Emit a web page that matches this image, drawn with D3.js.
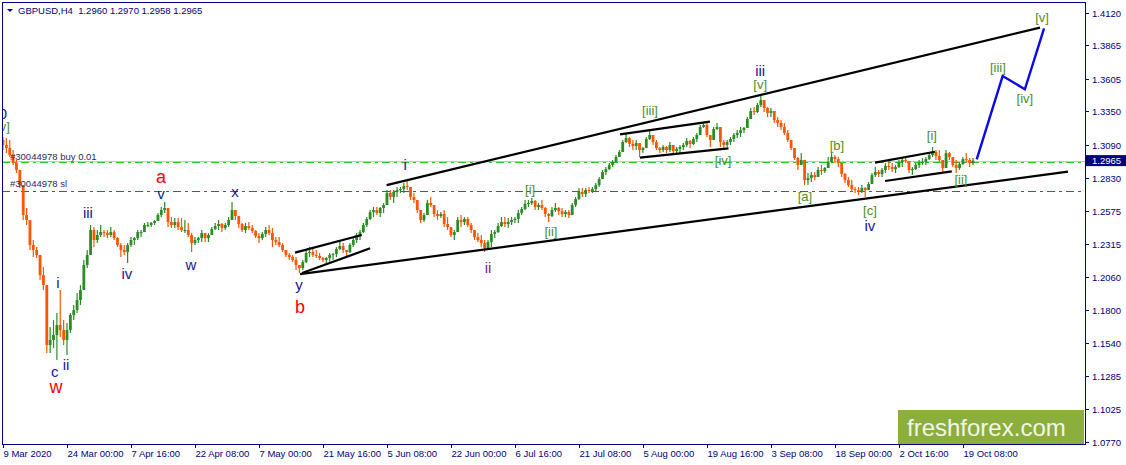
<!DOCTYPE html>
<html><head><meta charset="utf-8">
<script src="https://cdn.jsdelivr.net/npm/d3@7"></script>
<style>html,body{margin:0;padding:0;background:#fff;overflow:hidden}</style>
</head><body><svg id="c" width="1126" height="465"></svg>
<script>
// ---------------- data ----------------
const symbolTitle = "GBPUSD,H4";
const lastOHLC = [1.2960, 1.2970, 1.2958, 1.2965];
const firstOpen = 1.3126;
const high = [
1.3149,1.3141,1.3126,1.3048,1.2970,1.2876,1.2735,1.2595,1.2462,1.2345,
1.2290,1.2204,1.2134,1.1876,1.1665,1.1720,1.1775,1.1954,1.1720,1.1697,
1.1775,1.1837,1.1931,1.1993,1.2189,1.2267,1.2462,1.2446,1.2423,1.2462,
1.2423,1.2423,1.2446,1.2423,1.2368,1.2321,1.2306,1.2321,1.2368,1.2368,
1.2423,1.2423,1.2478,1.2485,1.2485,1.2501,1.2556,1.2603,1.2642,1.2579,
1.2524,1.2517,1.2517,1.2517,1.2501,1.2478,1.2399,1.2368,1.2368,1.2423,
1.2399,1.2399,1.2446,1.2478,1.2501,1.2478,1.2478,1.2524,1.2642,1.2579,
1.2524,1.2478,1.2478,1.2485,1.2462,1.2423,1.2399,1.2407,1.2446,1.2462,
1.2439,1.2368,1.2368,1.2321,1.2267,1.2243,1.2228,1.2212,1.2150,1.2189,
1.2267,1.2290,1.2282,1.2267,1.2243,1.2212,1.2212,1.2243,1.2243,1.2290,
1.2345,1.2321,1.2267,1.2321,1.2368,1.2399,1.2423,1.2478,1.2524,1.2579,
1.2603,1.2603,1.2603,1.2634,1.2735,1.2735,1.2735,1.2759,1.2759,1.2790,
1.2806,1.2759,1.2712,1.2657,1.2579,1.2556,1.2657,1.2681,1.2603,1.2579,
1.2563,1.2579,1.2524,1.2446,1.2423,1.2524,1.2540,1.2524,1.2524,1.2478,
1.2423,1.2399,1.2384,1.2345,1.2345,1.2423,1.2423,1.2478,1.2524,1.2524,
1.2517,1.2524,1.2524,1.2579,1.2603,1.2657,1.2657,1.2673,1.2657,1.2634,
1.2657,1.2603,1.2556,1.2603,1.2634,1.2603,1.2595,1.2579,1.2579,1.2634,
1.2681,1.2751,1.2751,1.2751,1.2759,1.2759,1.2790,1.2837,1.2892,1.2915,
1.2946,1.2970,1.3009,1.3048,1.3126,1.3181,1.3149,1.3126,1.3126,1.3102,
1.3071,1.3149,1.3204,1.3165,1.3126,1.3071,1.3087,1.3079,1.3110,1.3087,
1.3071,1.3087,1.3102,1.3141,1.3126,1.3149,1.3181,1.3243,1.3266,1.3259,
1.3165,1.3227,1.3259,1.3227,1.3126,1.3126,1.3149,1.3181,1.3204,1.3227,
1.3227,1.3305,1.3376,1.3384,1.3415,1.3477,1.3438,1.3384,1.3376,1.3352,
1.3305,1.3282,1.3259,1.3204,1.3126,1.3063,1.2993,1.3024,1.2970,1.2868,
1.2876,1.2876,1.2915,1.2931,1.2915,1.2993,1.3024,1.3009,1.2993,1.2946,
1.2868,1.2837,1.2813,1.2759,1.2759,1.2774,1.2759,1.2798,1.2868,1.2915,
1.2892,1.2907,1.2946,1.2970,1.2946,1.2931,1.2970,1.2985,1.2993,1.2962,
1.2915,1.2946,1.2970,1.2985,1.2993,1.3024,1.3071,1.3048,1.3048,1.2970,
1.3048,1.3032,1.2993,1.2970,1.2954,1.2993,1.3024,1.2985,1.2985];
const low = [
1.3048,1.3024,1.2993,1.2931,1.2868,1.2751,1.2501,1.2462,1.2267,1.2212,
1.2204,1.2032,1.1954,1.1462,1.1462,1.1501,1.1408,1.1587,1.1525,1.1447,
1.1618,1.1720,1.1775,1.1837,1.1993,1.2126,1.2306,1.2290,1.2321,1.2368,
1.2368,1.2360,1.2368,1.2345,1.2290,1.2212,1.2228,1.2165,1.2290,1.2306,
1.2345,1.2368,1.2423,1.2446,1.2446,1.2462,1.2501,1.2524,1.2556,1.2446,
1.2439,1.2439,1.2423,1.2407,1.2399,1.2368,1.2251,1.2306,1.2321,1.2329,
1.2329,1.2329,1.2399,1.2423,1.2423,1.2407,1.2423,1.2446,1.2501,1.2501,
1.2439,1.2407,1.2399,1.2423,1.2399,1.2360,1.2321,1.2345,1.2368,1.2384,
1.2290,1.2306,1.2290,1.2251,1.2212,1.2189,1.2173,1.2111,1.2087,1.2111,
1.2165,1.2212,1.2212,1.2204,1.2189,1.2173,1.2165,1.2173,1.2189,1.2212,
1.2267,1.2243,1.2212,1.2243,1.2290,1.2321,1.2345,1.2399,1.2446,1.2501,
1.2524,1.2540,1.2524,1.2556,1.2634,1.2657,1.2634,1.2681,1.2712,1.2712,
1.2735,1.2657,1.2634,1.2556,1.2478,1.2485,1.2556,1.2603,1.2524,1.2501,
1.2517,1.2446,1.2423,1.2368,1.2345,1.2423,1.2446,1.2462,1.2446,1.2399,
1.2345,1.2329,1.2290,1.2251,1.2267,1.2290,1.2360,1.2399,1.2446,1.2446,
1.2439,1.2462,1.2478,1.2478,1.2540,1.2579,1.2603,1.2618,1.2579,1.2579,
1.2579,1.2524,1.2485,1.2524,1.2563,1.2540,1.2524,1.2524,1.2517,1.2556,
1.2603,1.2657,1.2681,1.2681,1.2712,1.2712,1.2720,1.2759,1.2829,1.2852,
1.2892,1.2915,1.2954,1.2993,1.3048,1.3102,1.3071,1.3048,1.3048,1.2993,
1.3024,1.3071,1.3126,1.3087,1.3048,1.3024,1.3032,1.3024,1.3032,1.3009,
1.3009,1.3024,1.3048,1.3071,1.3063,1.3087,1.3110,1.3165,1.3220,1.3149,
1.3071,1.3126,1.3204,1.3071,1.3063,1.3071,1.3087,1.3110,1.3141,1.3149,
1.3181,1.3220,1.3290,1.3321,1.3337,1.3384,1.3345,1.3305,1.3305,1.3259,
1.3227,1.3204,1.3165,1.3110,1.3048,1.2970,1.2892,1.2931,1.2774,1.2774,
1.2798,1.2813,1.2837,1.2852,1.2868,1.2915,1.2946,1.2946,1.2915,1.2837,
1.2790,1.2759,1.2720,1.2712,1.2696,1.2712,1.2681,1.2735,1.2798,1.2837,
1.2837,1.2837,1.2868,1.2892,1.2876,1.2868,1.2907,1.2915,1.2946,1.2868,
1.2852,1.2892,1.2907,1.2931,1.2931,1.2970,1.2993,1.2970,1.2954,1.2876,
1.2907,1.2970,1.2915,1.2868,1.2892,1.2931,1.2946,1.2915,1.2931];
const close = [
1.3087,1.3063,1.3009,1.2946,1.2892,1.2774,1.2540,1.2501,1.2306,1.2267,
1.2228,1.2071,1.1993,1.1525,1.1564,1.1603,1.1681,1.1642,1.1564,1.1642,
1.1759,1.1798,1.1876,1.1954,1.2150,1.2228,1.2423,1.2345,1.2384,1.2407,
1.2399,1.2384,1.2407,1.2360,1.2306,1.2267,1.2251,1.2306,1.2345,1.2360,
1.2407,1.2407,1.2462,1.2462,1.2478,1.2493,1.2540,1.2579,1.2595,1.2485,
1.2462,1.2485,1.2446,1.2423,1.2423,1.2384,1.2321,1.2345,1.2360,1.2399,
1.2360,1.2384,1.2431,1.2454,1.2470,1.2439,1.2462,1.2501,1.2579,1.2532,
1.2470,1.2423,1.2454,1.2439,1.2415,1.2376,1.2360,1.2392,1.2423,1.2399,
1.2345,1.2329,1.2306,1.2267,1.2228,1.2212,1.2189,1.2150,1.2126,1.2173,
1.2243,1.2251,1.2228,1.2220,1.2204,1.2189,1.2204,1.2228,1.2235,1.2275,
1.2298,1.2267,1.2251,1.2306,1.2345,1.2384,1.2407,1.2462,1.2509,1.2563,
1.2579,1.2556,1.2595,1.2618,1.2712,1.2681,1.2720,1.2735,1.2743,1.2767,
1.2759,1.2681,1.2657,1.2579,1.2501,1.2540,1.2634,1.2618,1.2548,1.2532,
1.2548,1.2470,1.2446,1.2384,1.2407,1.2501,1.2485,1.2509,1.2462,1.2423,
1.2368,1.2345,1.2321,1.2282,1.2329,1.2392,1.2407,1.2454,1.2485,1.2470,
1.2485,1.2501,1.2509,1.2556,1.2587,1.2626,1.2634,1.2649,1.2603,1.2618,
1.2595,1.2548,1.2532,1.2579,1.2595,1.2571,1.2548,1.2563,1.2540,1.2618,
1.2665,1.2720,1.2704,1.2735,1.2728,1.2743,1.2774,1.2821,1.2876,1.2899,
1.2931,1.2954,1.2993,1.3032,1.3110,1.3141,1.3095,1.3079,1.3102,1.3048,
1.3063,1.3134,1.3165,1.3110,1.3063,1.3048,1.3071,1.3048,1.3087,1.3040,
1.3056,1.3071,1.3087,1.3118,1.3095,1.3134,1.3165,1.3227,1.3243,1.3165,
1.3126,1.3212,1.3227,1.3110,1.3087,1.3110,1.3134,1.3165,1.3181,1.3204,
1.3220,1.3290,1.3352,1.3345,1.3399,1.3438,1.3376,1.3337,1.3352,1.3282,
1.3259,1.3227,1.3181,1.3126,1.3063,1.2985,1.2931,1.2970,1.2813,1.2829,
1.2852,1.2837,1.2892,1.2884,1.2907,1.2954,1.2993,1.2977,1.2946,1.2860,
1.2813,1.2774,1.2743,1.2735,1.2720,1.2751,1.2735,1.2782,1.2852,1.2876,
1.2860,1.2892,1.2923,1.2915,1.2899,1.2915,1.2954,1.2970,1.2962,1.2892,
1.2899,1.2931,1.2946,1.2954,1.2977,1.3009,1.3032,1.3001,1.2970,1.2907,
1.3024,1.2993,1.2931,1.2907,1.2938,1.2977,1.2970,1.2946,1.2965];

const tickBars = [0,19,38,57,76,95,114,133,152,171,190,209,228,247,266,285];
const tickLabels = ["9 Mar 2020","24 Mar 00:00","7 Apr 16:00","22 Apr 08:00","7 May 00:00",
  "21 May 16:00","5 Jun 08:00","22 Jun 00:00","6 Jul 16:00","21 Jul 08:00","5 Aug 00:00",
  "19 Aug 16:00","3 Sep 08:00","18 Sep 00:00","2 Oct 16:00","19 Oct 08:00"];
const priceTicks = [1.4120,1.3865,1.3605,1.3350,1.3090,1.2830,1.2575,1.2315,1.2060,1.1800,1.1540,1.1285,1.1025,1.0770];

const bidPrice = 1.2965;
const buyPrice = 1.2952;
const slPrice = 1.2730;
const orderId = "#30044978";

// trend lines: [bar, price] anchors
const trendFrom = [[113.9,1.2774],[88.2,1.2079],[86.7,1.2246],[88.8,1.2087],[183.2,1.3170],[189.1,1.2988],[258.9,1.2949],[261.9,1.2806]];
const trendTo   = [[307.9,1.4003],[316.2,1.2879],[106.5,1.2384],[109.0,1.2280],[209.9,1.3269],[215.4,1.3061],[276.7,1.3034],[281.7,1.2881]];
// projected path
const projBars   = [289.1, 296.8, 303.4, 309.1];
const projPrices = [1.2975, 1.3625, 1.3522, 1.3998];

// wave labels
const waveText  = ["0","[v]","a","v","x","iii","iv","w","i","c","ii","w","y","b","i","ii","iii","[v]","[iii]","[iv]","[i]","[ii]","[a]","[b]","[c]","iv","[i]","[ii]","[iii]","[iv]","[v]"];
const waveBar   = [0,0,46.9,46.9,68.9,25.2,36.8,55.8,16.3,15.4,18.7,15.7,87.9,88.2,119.4,144.0,224.8,224.8,192.1,213.8,156.5,162.7,238.1,247.6,257.4,257.4,275.8,284.4,295.4,303.4,308.5];
const wavePrice = [1.3290,1.3200,1.2790,1.2665,1.2681,1.2517,1.2040,1.2111,1.1970,1.1278,1.1329,1.1150,1.1954,1.1775,1.2892,1.2087,1.3622,1.3524,1.3325,1.2927,1.2704,1.2376,1.2653,1.3044,1.2540,1.2415,1.3126,1.2782,1.3657,1.3415,1.4047];
const waveDegree= ["minor","minute","primary","minor","minor","minor","minor","minor","minor","minor","minor","primary","minor","primary","minor","alt","minor","minute","minute","minute","minute","minute","minute","minute","minute","minor","minute","minute","minute","minute","minute"];

// ---------------- drawing ----------------
const FONT = "'Liberation Sans', Arial, sans-serif";
const NAVY = "#000080";
const svg = d3.select("#c");
const L = 2, T = 2, R = 1085, B = 444;

const x = d3.scaleLinear().domain([0, close.length - 1]).range([3, 973]);
const y = d3.scaleLinear().domain([1.0770, 1.4120]).range([441.7, 12.7]);

svg.append("rect").attr("width",1126).attr("height",465).attr("fill","#fff");

svg.append("defs").append("clipPath").attr("id","plot")
  .append("rect").attr("x",L).attr("y",T).attr("width",R-L).attr("height",B-T);

const plot = svg.append("g").attr("clip-path","url(#plot)");

// horizontal order lines
const hy = p => Math.round(y(p)) + 0.5;
plot.append("line").attr("x1",L).attr("x2",R).attr("y1",hy(bidPrice)).attr("y2",hy(bidPrice))
  .attr("stroke","#c8c8c8").attr("stroke-width",1);
plot.append("line").attr("x1",L).attr("x2",R).attr("y1",hy(buyPrice)).attr("y2",hy(buyPrice))
  .attr("stroke","#22cc22").attr("stroke-width",1).attr("stroke-dasharray","8,4,3,4");
plot.append("line").attr("x1",L).attr("x2",R).attr("y1",hy(slPrice)).attr("y2",hy(slPrice))
  .attr("stroke","#f0103c").attr("stroke-width",1).attr("stroke-dasharray","8,4,3,4");

// candles
const candles = close.map((c,i)=>{
  const o = i === 0 ? firstOpen : close[i-1];
  return {i, o, c, h: Math.max(high[i], o, c), l: Math.min(low[i], o, c)};
});
const BULL = "#2b8c24", BEAR = "#ff5500";
const cg = plot.append("g");
cg.selectAll("line.w").data(candles).join("line").attr("class","w")
  .attr("x1",d=>x(d.i)).attr("x2",d=>x(d.i))
  .attr("y1",d=>y(d.h)).attr("y2",d=>y(d.l))
  .attr("stroke",d=>d.c>=d.o?BULL:BEAR).attr("stroke-width",1.2);
cg.selectAll("rect.b").data(candles).join("rect").attr("class","b")
  .attr("x",d=>x(d.i)-1.4).attr("width",2.8)
  .attr("y",d=>Math.min(y(d.o),y(d.c)))
  .attr("height",d=>Math.max(1,Math.abs(y(d.o)-y(d.c))))
  .attr("fill",d=>d.c>=d.o?BULL:BEAR);

// trend lines
plot.selectAll("line.t").data(trendFrom.map((f,i)=>[f,trendTo[i]])).join("line").attr("class","t")
  .attr("x1",d=>x(d[0][0])).attr("y1",d=>y(d[0][1]))
  .attr("x2",d=>x(d[1][0])).attr("y2",d=>y(d[1][1]))
  .attr("stroke","#000").attr("stroke-width",2.2);

// projection
plot.append("path")
  .attr("d", d3.line().x(d=>x(d[0])).y(d=>y(d[1]))(projBars.map((b,i)=>[b,projPrices[i]])))
  .attr("fill","none").attr("stroke","#0a0ae6").attr("stroke-width",2.4);

// order labels
plot.append("text").attr("x",10).attr("y",y(buyPrice)-2).text(orderId+" buy 0.01")
  .attr("font-family",FONT).attr("font-size",9.5).attr("fill","#2a2a66");
plot.append("text").attr("x",10).attr("y",y(slPrice)-3.5).text(orderId+" sl")
  .attr("font-family",FONT).attr("font-size",9.5).attr("fill","#2a2a66");

// wave labels
const degStyle = {
  primary:{fill:"#ff0000", size:18},
  minor:{fill:"#1a1a8e", size:15},
  minute:{fill:"#4e8d1e", size:13},
  alt:{fill:"#7a1a8a", size:15}
};
plot.selectAll("text.wv").data(waveText.map((t,i)=>({t,b:waveBar[i],p:wavePrice[i],d:waveDegree[i]}))).join("text")
  .attr("class","wv").attr("x",d=>x(d.b)).attr("y",d=>y(d.p)).attr("text-anchor","middle")
  .attr("font-family",FONT).attr("font-size",d=>degStyle[d.d].size).attr("fill",d=>degStyle[d.d].fill)
  .text(d=>d.t);

// watermark
svg.append("rect").attr("x",898).attr("y",410).attr("width",186).attr("height",34).attr("fill","#8cae3c");
svg.append("text").attr("x",907).attr("y",436).text("freshforex.com")
  .attr("font-family",FONT).attr("font-size",24).attr("fill","#f2f6e6");

// frame
svg.append("rect").attr("x",L+0.5).attr("y",T+0.5).attr("width",R-L).attr("height",B-T)
  .attr("fill","none").attr("stroke",NAVY).attr("stroke-width",1);

// right axis
const ya = svg.append("g");
priceTicks.forEach(p=>{
  const yy = Math.round(y(p))+0.5;
  ya.append("line").attr("x1",R+0.5).attr("x2",R+4).attr("y1",yy).attr("y2",yy).attr("stroke",NAVY);
  ya.append("text").attr("x",R+7).attr("y",yy+3.5).text(d3.format(".4f")(p))
    .attr("font-family",FONT).attr("font-size",9.5).attr("fill",NAVY);
});
// current price box
const yb = y(bidPrice);
svg.append("rect").attr("x",R+1).attr("y",yb-5.5).attr("width",40).attr("height",11).attr("fill",NAVY);
svg.append("text").attr("x",R+7).attr("y",yb+3.5).text(d3.format(".4f")(bidPrice))
  .attr("font-family",FONT).attr("font-size",9.5).attr("fill","#fff");

// bottom axis
const xa = svg.append("g");
tickBars.forEach((b,i)=>{
  const xx = Math.round(x(b))+0.5;
  xa.append("line").attr("x1",xx).attr("x2",xx).attr("y1",B).attr("y2",B+4).attr("stroke",NAVY);
  xa.append("text").attr("x",xx).attr("y",B+13).text(tickLabels[i])
    .attr("font-family",FONT).attr("font-size",9.5).attr("fill",NAVY);
});

// header
svg.append("path").attr("d","M7,9 L13,9 L10,12 Z").attr("fill",NAVY);
svg.append("text").attr("x",18).attr("y",13.5)
  .text(symbolTitle + "  " + lastOHLC.map(v=>d3.format(".4f")(v)).join(" "))
  .attr("font-family",FONT).attr("font-size",9.5).attr("fill",NAVY).attr("xml:space","preserve");
</script>
</body></html>
